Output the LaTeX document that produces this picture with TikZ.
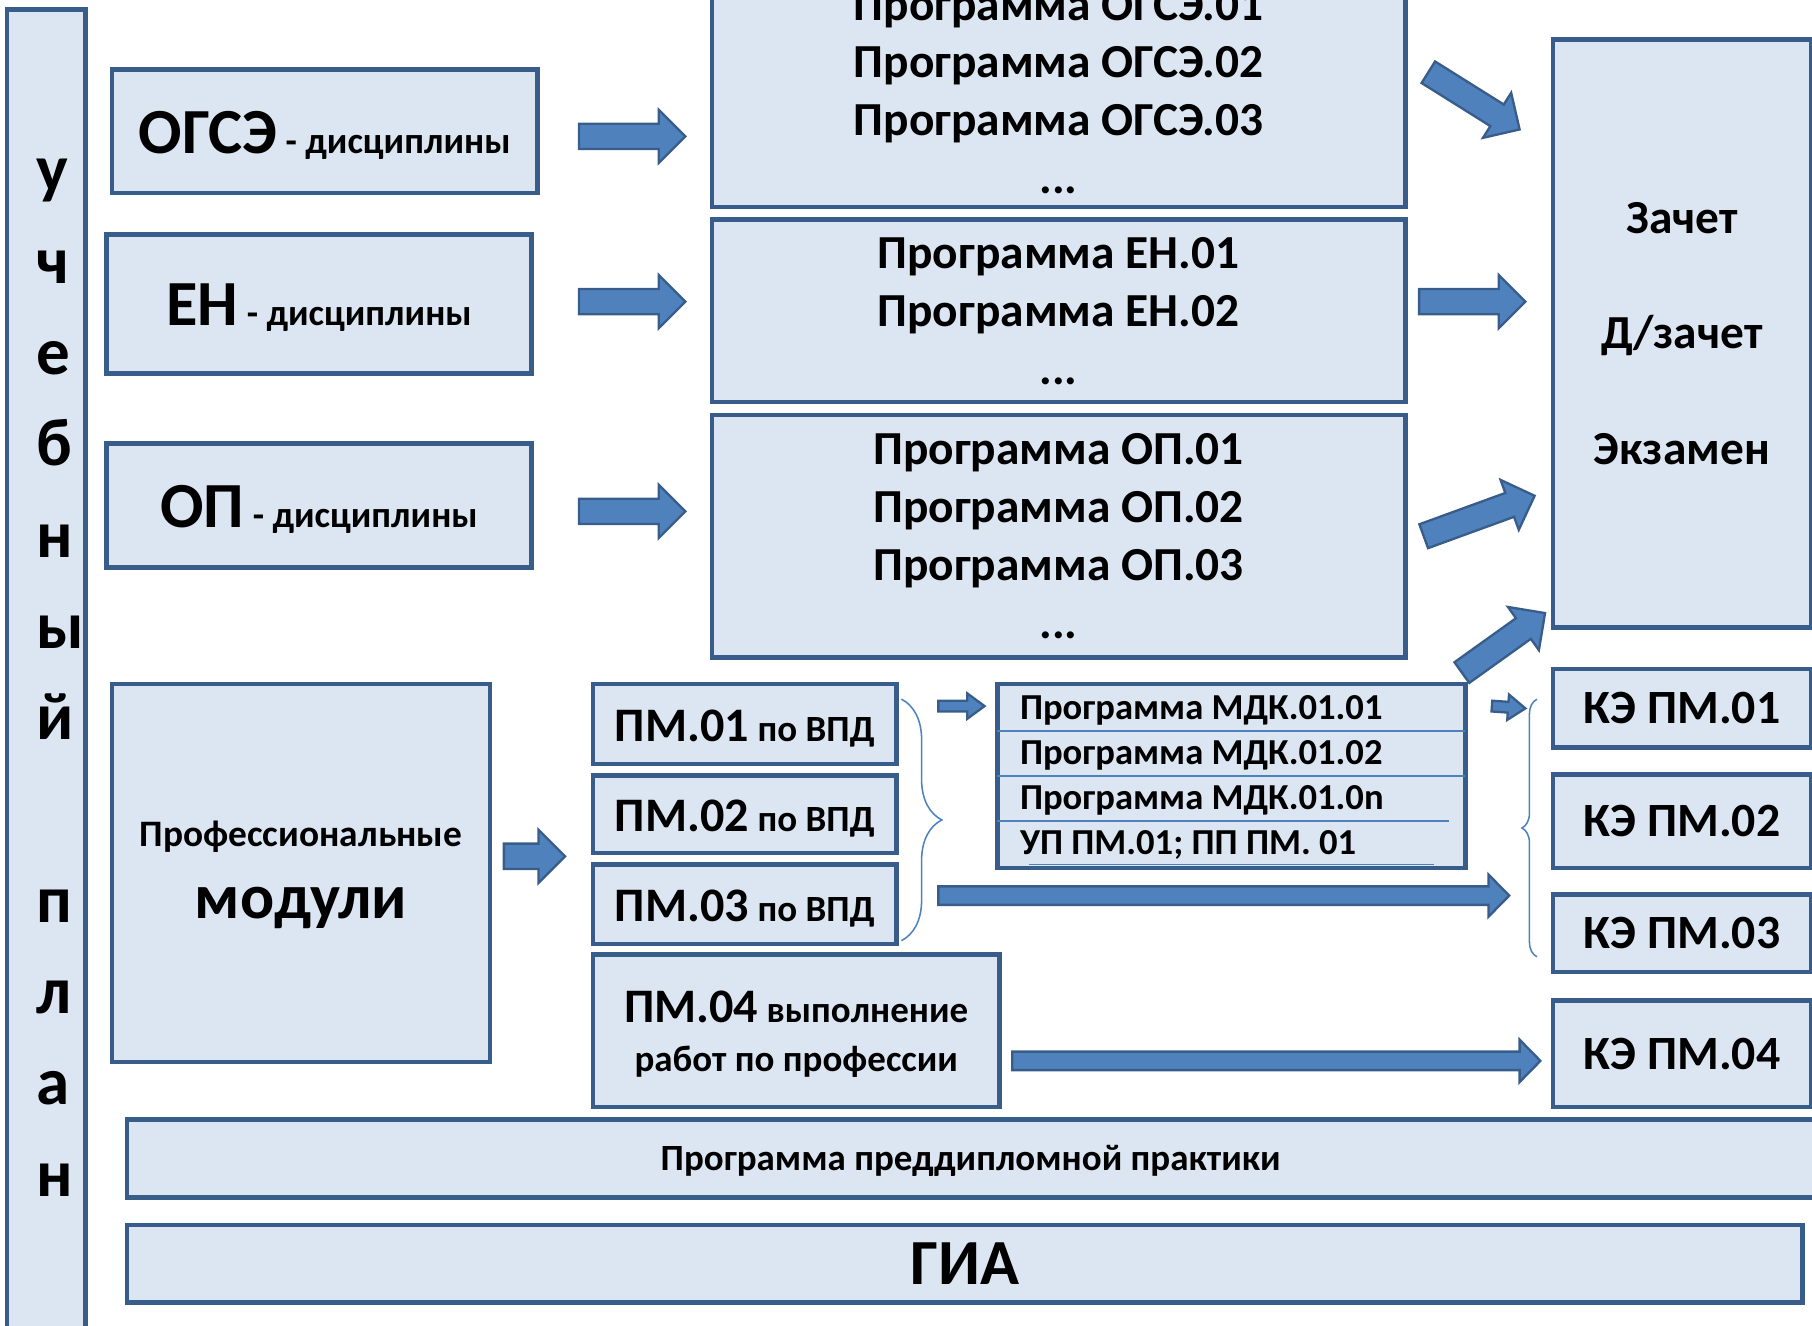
\documentclass[tikz,border=0pt]{standalone}
\usepackage{fontspec}
\setmainfont{Carlito}
\usetikzlibrary{fit,calc,decorations.pathreplacing}

\definecolor{boxfill}{RGB}{220,230,242}
\definecolor{boxline}{RGB}{56,93,138}
\definecolor{arrowfill}{RGB}{79,129,189}
\definecolor{arrowline}{RGB}{56,93,138}

% text sizes
\newcommand\hugesz{\fontsize{16.7}{20}\selectfont\bfseries}
\newcommand\progsz{\fontsize{12.3}{15}\selectfont\bfseries}
\newcommand\pmsz{\fontsize{12.5}{15}\selectfont\bfseries}
\newcommand\kesz{\fontsize{12.4}{15}\selectfont\bfseries}
\newcommand\smallsz{\fontsize{9.6}{12}\selectfont\bfseries}

% block arrow: from, to, half shaft, half head, head length
\newcommand\fatarrow[5]{%
  \filldraw[fatarrow] let \p1=#1, \p2=#2,
    \n1={atan2(\y2-\y1,\x2-\x1)}, \n2={veclen(\x2-\x1,\y2-\y1)} in
    ($(\p1)+(\n1+90:#3)$) -- ++(\n1:\n2*1pt-#5) -- ++(\n1+90:#4-#3) -- (\p2)
    -- ($(\p2)+(\n1+180:#5)+(\n1-90:#4)$) -- ++(\n1+90:#4-#3)
    -- ($(\p1)+(\n1-90:#3)$) -- cycle;}

\tikzset{
  box/.style={draw=boxline, fill=boxfill, line width=1.2pt, inner sep=0pt},
  boxtext/.style={align=center, inner sep=0pt},
  fatarrow/.style={draw=arrowline, fill=arrowfill, line width=0.6pt},
  thinblue/.style={draw=arrowfill, line width=0.4pt},
  letter/.style={anchor=base west, font=\fontsize{17.4}{20}\selectfont\bfseries, inner sep=0pt},
  rowtext/.style={anchor=west, font=\fontsize{9.5}{11}\selectfont\bfseries, inner sep=0pt},
}

\begin{document}
\begin{tikzpicture}[x=0.3pt, y=-0.3pt, font=\bfseries]
  \useasboundingbox (0,0) rectangle (1568,1147);
  \clip (0,0) rectangle (1568,1147);

  % curriculum column
  \node[box, fit={(6,8) (74,1160)}] (plan) {};
  \foreach \ch/\k in {у/1,ч/2,е/3,б/4,н/5,ы/6,й/7,п/9,л/10,а/11,н/12}
    \node[letter] (ch\k) at (31,87+79*\k) {\ch};

  % discipline groups
  \node[box, fit={(97,60) (465,167)}] (ogse) {};
  \node[boxtext] (ogset) at ([yshift=-1pt]ogse) {{\hugesz ОГСЭ} {\smallsz - дисциплины}};
  \node[box, fit={(92,203) (460,323)}] (en) {};
  \node[boxtext] (ent) at ([yshift=-1pt]en) {{\hugesz ЕН} {\smallsz - дисциплины}};
  \node[box, fit={(92,384) (460,491)}] (op) {};
  \node[boxtext] (opt) at ([yshift=-1pt]op) {{\hugesz ОП} {\smallsz - дисциплины}};

  % programs
  \node[box, fit={(616,-21) (1216,179)}] (ogseprog) {};
  \node[boxtext, font=\progsz] (ogseprogt) at (ogseprog)
    {Программа ОГСЭ.01\\Программа ОГСЭ.02\\Программа ОГСЭ.03\\...};
  \node[box, fit={(616,190) (1216,348)}] (enprog) {};
  \node[boxtext, font=\progsz] (enprogt) at (enprog)
    {Программа ЕН.01\\Программа ЕН.02\\...};
  \node[box, fit={(616,359) (1216,569)}] (opprog) {};
  \node[boxtext, font=\progsz] (opprogt) at (opprog)
    {Программа ОП.01\\Программа ОП.02\\Программа ОП.03\\...};

  % control forms
  \node[box, fit={(1344,34) (1567,543)}] (control) {};
  \node[boxtext, font=\fontsize{12.3}{30}\selectfont\bfseries] (controlt) at (control)
    {Зачет\\Д/зачет\\Экзамен};

  % professional modules
  \node[box, fit={(97,592) (424,919)}] (prof) {};
  \node[boxtext, font=\fontsize{9.7}{18.6}\selectfont\bfseries] (proft) at ([yshift=-0.5pt]prof)
    {Профессиональные\\{\fontsize{16.5}{20}\selectfont модули}};
  \foreach \i/\ya/\yb in {1/592/661, 2/671/738, 3/748/817}{
    \node[box, fit={(513,\ya) (776,\yb)}] (pm\i) {};
    \node[boxtext] (pm\i t) at ([yshift=-1.2pt]pm\i) {{\pmsz ПМ.0\i} {\smallsz по ВПД}};
  }
  \node[box, fit={(513,826) (865,958)}] (pm4) {};
  \node[boxtext, font=\fontsize{9.6}{12.6}\selectfont\bfseries] (pm4t) at ([yshift=-0.9pt]pm4)
    {{\pmsz ПМ.04} выполнение\\работ по профессии};

  % MDK list
  \node[box, fit={(863,592) (1268,751)}] (mdk) {};
  \foreach \txt [count=\i] in {Программа МДК.01.01, Программа МДК.01.02, Программа МДК.01.0n, УП ПМ.01; ПП ПМ. 01}
    \node[rowtext] (row\i) at (882,575.5+39*\i) {\txt};
  \draw[thinblue] (863,632.6) -- (1268,632.6);
  \draw[thinblue] (863,671.6) -- (1268,671.6);
  \draw[thinblue] (863,710.5) -- (1254,710.5);
  \draw[thinblue] (890,748) -- (1241,748);

  % exams
  \foreach \i/\ya/\yb in {1/579/647, 2/670/751, 3/774/841, 4/866/958}{
    \node[box, fit={(1344,\ya) (1567,\yb)}] (ke\i) {};
    \node[boxtext, font=\kesz] (ke\i t) at (ke\i) {КЭ ПМ.0\i};
  }

  \node[box, fit={(110,969) (1570,1036)}] (practice) {};
  \node[boxtext, font=\smallsz] (practicet) at ([yshift=-0.6pt]practice) {Программа преддипломной практики};
  \node[box, fit={(110,1060) (1560,1127)}] (gia) {};
  \node[boxtext, font=\hugesz] (giat) at (gia) {ГИА};

  % braces
  \draw[thinblue, decorate, decoration={brace, amplitude=10.5pt}]
    ([shift={(2,15)}]pm1.north east) -- ([shift={(2,-5)}]pm3.south east);
  \draw[thinblue, decorate, decoration={brace, amplitude=3.9pt}]
    ([shift={(-12,-15)}]ke3.south west) -- ([shift={(-12,28)}]ke1.north west);

  % arrows
  \fatarrow{([shift={(34,4.5)}]ogse.east)}{([shift={(-21,39)}]ogseprog.west)}{3.3pt}{6.9pt}{6.9pt}
  \fatarrow{([shift={(39,-2)}]en.east)}{([shift={(-21,-8)}]enprog.west)}{3.3pt}{6.9pt}{6.9pt}
  \fatarrow{([shift={(39,5)}]op.east)}{([shift={(-21,-21.5)}]opprog.west)}{3.3pt}{6.9pt}{6.9pt}
  \fatarrow{([shift={(18,-16.5)}]ogseprog.east)}{([shift={(-27,80)}]control.north west)}{3.3pt}{6.9pt}{6.9pt}
  \fatarrow{([shift={(10,-8)}]enprog.east)}{([shift={(-22,-27.5)}]control.west)}{3.3pt}{6.9pt}{6.9pt}
  \fatarrow{([shift={(14,0)}]opprog.east)}{([shift={(-14,-116)}]control.south west)}{3.3pt}{6.9pt}{6.9pt}
  \fatarrow{([shift={(-5,-8)}]mdk.north east)}{([shift={(-5,-14.5)}]control.south west)}{3.3pt}{6.9pt}{6.9pt}
  \fatarrow{([shift={(10,-14.5)}]prof.east)}{([shift={(-22,36.5)}]pm2.west)}{3.3pt}{6.9pt}{6.9pt}
  \fatarrow{([shift={(34,21)}]pm1.north east)}{([shift={(-9,21)}]mdk.north west)}{1.4pt}{3.3pt}{4.5pt}
  \fatarrow{([shift={(21,21)}]mdk.north east)}{([shift={(-22,0)}]ke1.west)}{1.4pt}{3.3pt}{4.5pt}
  \fatarrow{([shift={(34,-7.5)}]pm3.east)}{([shift={(-36,-32.5)}]ke3.west)}{2.4pt}{5.5pt}{5.4pt}
  \fatarrow{([shift={(9,26)}]pm4.east)}{([shift={(-9,6)}]ke4.west)}{2.4pt}{5.5pt}{5.4pt}
\end{tikzpicture}
\end{document}
